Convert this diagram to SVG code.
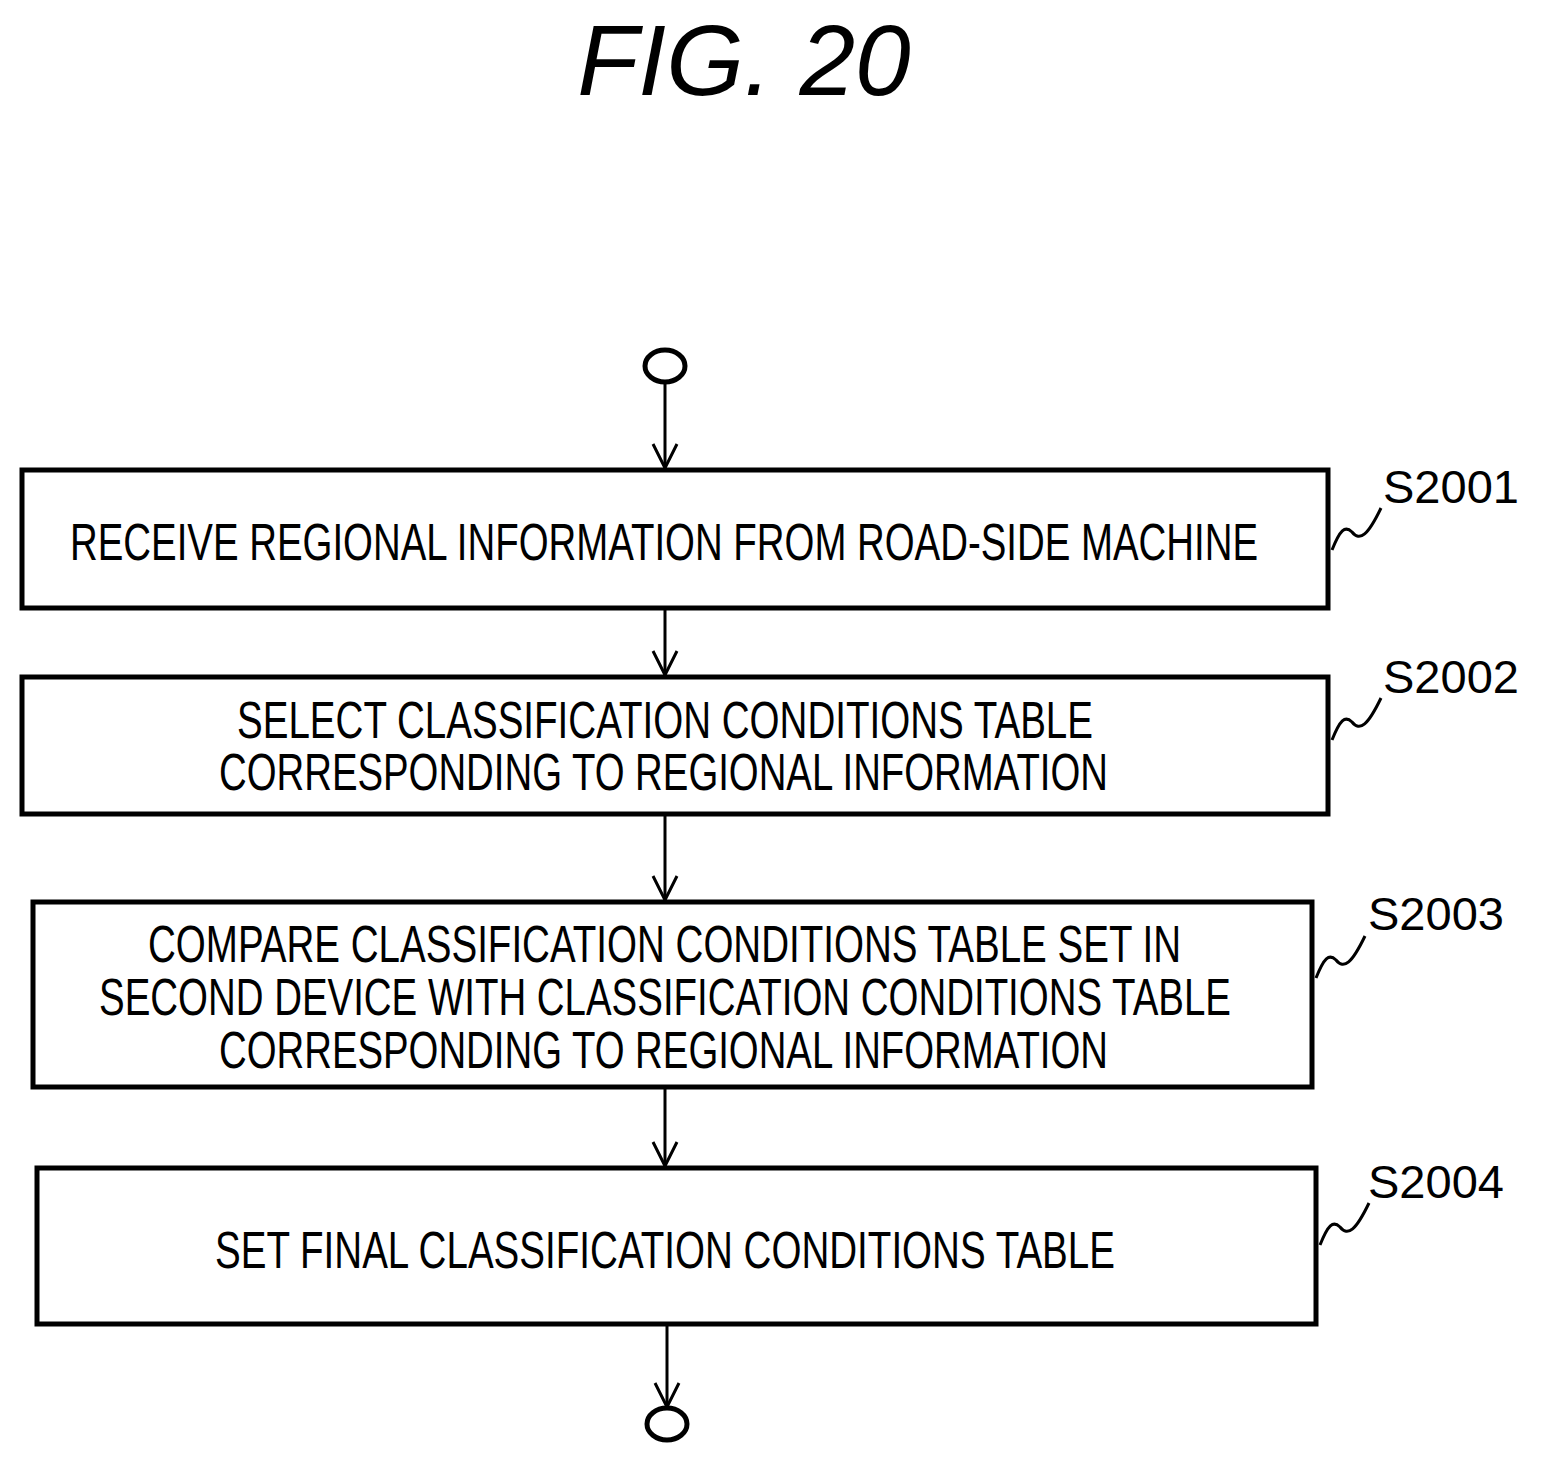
<svg xmlns="http://www.w3.org/2000/svg" width="1544" height="1467" viewBox="0 0 1544 1467">
<style>
.b{fill:#fff;stroke:#000;stroke-width:5}
.t{font-family:"Liberation Sans",Arial,sans-serif;font-size:52px;fill:#000}
.l{font-family:"Liberation Sans",Arial,sans-serif;font-size:47px;fill:#000}
.c{fill:none;stroke:#000;stroke-width:3}
.s{fill:none;stroke:#000;stroke-width:3}
</style>
<defs><marker id="a" markerWidth="30" markerHeight="30" refX="27" refY="15" orient="auto" markerUnits="userSpaceOnUse"><path d="M3,3 L27,15 L3,27" fill="none" stroke="#000" stroke-width="3"/></marker></defs>
<rect width="1544" height="1467" fill="#fff"/>
<text x="744" y="95" text-anchor="middle" font-family="Liberation Sans,Arial,sans-serif" font-style="italic" font-size="100">FIG. 20</text>
<g id="connectors">
<line class="c" x1="665" y1="383" x2="665" y2="468" marker-end="url(#a)"/>
<line class="c" x1="665" y1="610" x2="665" y2="675" marker-end="url(#a)"/>
<line class="c" x1="665" y1="816" x2="665" y2="900" marker-end="url(#a)"/>
<line class="c" x1="665" y1="1089" x2="665" y2="1166" marker-end="url(#a)"/>
<line class="c" x1="667" y1="1326" x2="667" y2="1407" marker-end="url(#a)"/>
</g>
<g id="start"><ellipse cx="665" cy="366" rx="20" ry="16" fill="#fff" stroke="#000" stroke-width="5"/></g>
<g id="end"><ellipse cx="667" cy="1424" rx="20" ry="16" fill="#fff" stroke="#000" stroke-width="5"/></g>
<g id="s2001">
<rect class="b" x="22" y="470" width="1306" height="138"/>
<text class="t" x="70" y="560" textLength="1188" lengthAdjust="spacingAndGlyphs">RECEIVE REGIONAL INFORMATION FROM ROAD-SIDE MACHINE</text>
<path class="s" d="M1332,550 C1340,530 1345,525 1352,532 C1360,542 1368,535 1381,508"/>
<text class="l" x="1383" y="503">S2001</text>
</g>
<g id="s2002">
<rect class="b" x="22" y="677" width="1306" height="137"/>
<text class="t" x="237" y="738" textLength="856" lengthAdjust="spacingAndGlyphs">SELECT CLASSIFICATION CONDITIONS TABLE</text>
<text class="t" x="219" y="790" textLength="889" lengthAdjust="spacingAndGlyphs">CORRESPONDING TO REGIONAL INFORMATION</text>
<path class="s" d="M1332,740 C1340,720 1345,715 1352,722 C1360,732 1368,725 1381,698"/>
<text class="l" x="1383" y="693">S2002</text>
</g>
<g id="s2003">
<rect class="b" x="33" y="902" width="1279" height="185"/>
<text class="t" x="148" y="962" textLength="1033" lengthAdjust="spacingAndGlyphs">COMPARE CLASSIFICATION CONDITIONS TABLE SET IN</text>
<text class="t" x="99" y="1015" textLength="1132" lengthAdjust="spacingAndGlyphs">SECOND DEVICE WITH CLASSIFICATION CONDITIONS TABLE</text>
<text class="t" x="219" y="1068" textLength="889" lengthAdjust="spacingAndGlyphs">CORRESPONDING TO REGIONAL INFORMATION</text>
<path class="s" d="M1316,978 C1324,958 1329,953 1336,960 C1344,970 1352,963 1365,936"/>
<text class="l" x="1368" y="930">S2003</text>
</g>
<g id="s2004">
<rect class="b" x="37" y="1168" width="1279" height="156"/>
<text class="t" x="215" y="1268" textLength="900" lengthAdjust="spacingAndGlyphs">SET FINAL CLASSIFICATION CONDITIONS TABLE</text>
<path class="s" d="M1320,1245 C1328,1225 1333,1220 1340,1227 C1348,1237 1356,1230 1369,1203"/>
<text class="l" x="1368" y="1198">S2004</text>
</g>
</svg>
